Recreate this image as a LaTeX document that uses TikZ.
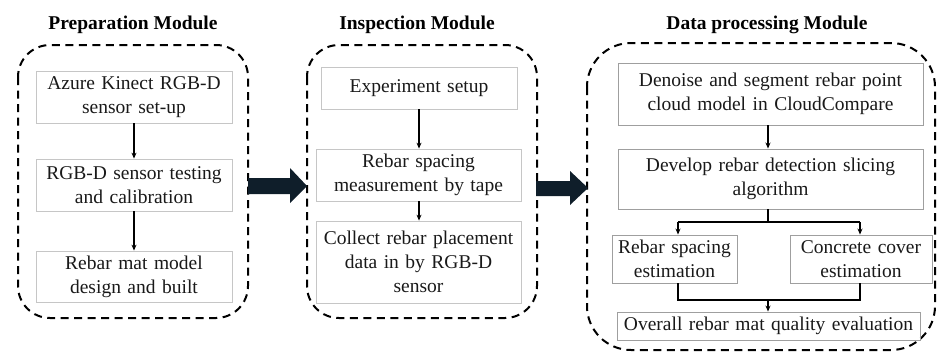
\documentclass[tikz,border=0pt]{standalone}
\usepackage{fontspec}
\setmainfont{Liberation Serif}
\newfontfamily\tnr{Liberation Serif}
\usetikzlibrary{arrows.meta,calc}
\definecolor{navy}{HTML}{0F1E2A}
\tikzset{
  modbox/.style={draw=black, line width=2pt, dash pattern=on 8pt off 5.5pt, rounded corners=32pt},
  lightbox/.style={draw=gray!45, line width=0.8pt, rectangle, inner sep=0pt, align=center,
     font=\tnr\fontsize{19.5}{24}\selectfont, text=black!90},
  darkbox/.style={draw=gray!75, line width=0.9pt, rectangle, inner sep=0pt, align=center,
     font=\tnr\fontsize{19.5}{24}\selectfont, text=black!90},
  title/.style={font=\tnr\bfseries\fontsize{19.5}{22}\selectfont, text=black},
  flow/.style={draw=black, line width=1.2pt, -{Stealth[length=6pt,width=5pt]}},
  thickline/.style={draw=black, line width=2pt},
  bigarrow/.style={fill=navy, draw=none}
}
\begin{document}
\begin{tikzpicture}[x=1pt,y=-1pt]
\useasboundingbox (0,0) rectangle (937,356);
% titles
\node[title] (t1) at (133,25) {Preparation Module};
\node[title] (t2) at (417,25) {Inspection Module};
\node[title] (t3) at (767,25) {Data processing Module};
% module frames
\draw[modbox] (18,45) rectangle (248,318);
\draw[modbox] (307,45) rectangle (537,318);
\draw[modbox, rounded corners=44pt] (587,43) rectangle (935,350);
% Preparation module boxes
\node[lightbox, text width=196pt, minimum height=52pt] (p1) at (134,97) {Azure Kinect RGB-D\\sensor set-up};
\node[lightbox, text width=196pt, minimum height=52pt] (p2) at (134,185) {RGB-D sensor testing\\and calibration};
\node[lightbox, text width=196pt, minimum height=51pt] (p3) at (134,276.5) {Rebar mat model\\design and built};
\draw[flow] (p1) -- (p2);
\draw[flow] (p2) -- (p3);
% Inspection module boxes
\node[lightbox, text width=196pt, minimum height=42pt] (i1) at (419,88) {Experiment setup};
\node[lightbox, text width=205pt, minimum height=52pt] (i2) at (418.5,175) {Rebar spacing\\measurement by tape};
\node[lightbox, text width=205pt, minimum height=82pt] (i3) at (418.5,262) {Collect rebar placement\\data in by RGB-D\\sensor};
\draw[flow] (i1.south -| 419,0) -- (i2.north -| 419,0);
\draw[flow] (i2.south -| 419,0) -- (i3.north -| 419,0);
% Data processing boxes
\node[darkbox, text width=305pt, minimum height=62pt] (d1) at (770.5,94) {Denoise and segment rebar point\\cloud model in CloudCompare};
\node[darkbox, text width=305pt, minimum height=60pt] (d2) at (770.5,179) {Develop rebar detection slicing\\algorithm};
\node[darkbox, text width=125pt, minimum height=48pt] (d3) at (674.5,259) {Rebar spacing\\estimation};
\node[darkbox, text width=142pt, minimum height=48pt] (d4) at (861,259) {Concrete cover\\estimation};
\node[darkbox, text width=303pt, minimum height=28pt] (d5) at (768.5,326) {Overall rebar mat quality evaluation};
\draw[flow] (d1.south -| 768,0) -- (d2.north -| 768,0);
\coordinate (split) at (768,222);
\coordinate (sl) at (678,222);
\coordinate (sr) at (860,222);
\draw[thickline] (d2.south -| 768,0) -- (split);
\draw[thickline] (sl) -- (sr);
\draw[flow] (sl) -- (d3.north -| sl);
\draw[flow] (sr) -- (d4.north -| sr);
\coordinate (ml) at (678,300);
\coordinate (mr) at (860,300);
\coordinate (mm) at (768,300);
\draw[thickline] (d3.south -| ml) -- (ml) -- (mr) -- (d4.south -| mr);
\draw[flow] (mm) -- (d5.north -| mm);
% big arrows between modules
\fill[bigarrow] (248,178) -- (290,178) -- (290,168) -- (307,186) -- (290,203) -- (290,194) -- (248,194) -- cycle;
\fill[bigarrow] (536,181) -- (570,181) -- (570,171) -- (588,188) -- (570,205) -- (570,196) -- (536,196) -- cycle;
\end{tikzpicture}
\end{document}
